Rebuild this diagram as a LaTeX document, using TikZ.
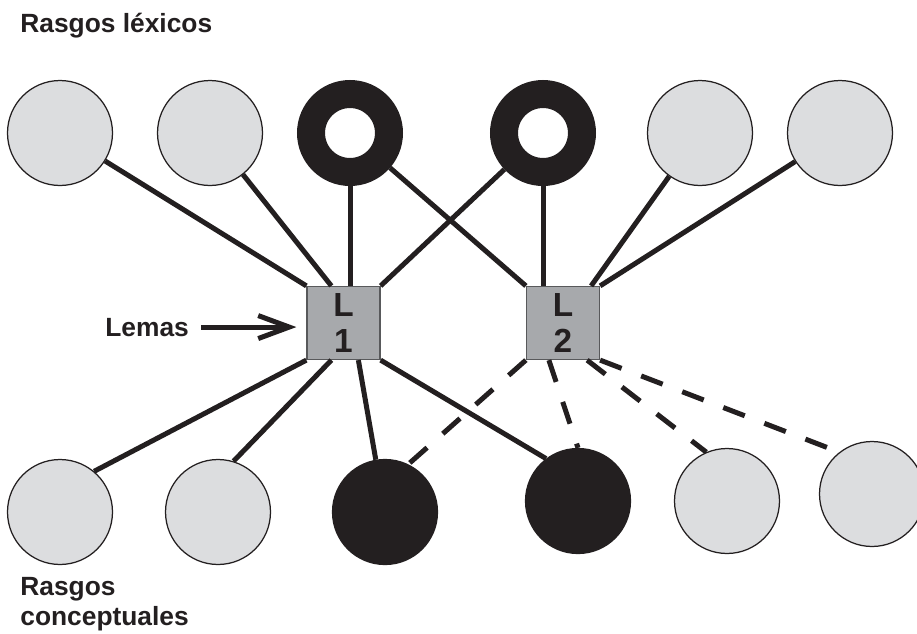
\documentclass[tikz,border=0pt]{standalone}
\usepackage{fontspec}
\setmainfont{Liberation Sans}
\usetikzlibrary{arrows.meta,positioning,calc}
\definecolor{grisclaro}{HTML}{DCDDDF}
\definecolor{tinta}{HTML}{231F20}
\definecolor{grislema}{HTML}{A7A9AC}
\definecolor{borde}{HTML}{58595B}

\begin{document}
\begin{tikzpicture}[x=0.02cm, y=-0.02cm, >={Straight Barb[length=0.62cm,width=0.46cm]}]
	\tikzstyle{rasgo}=[circle,fill=grisclaro,draw=tinta,line width=0.025cm,minimum size=2.1cm,inner sep=0pt]
	\tikzstyle{anillo}=[circle,fill=white,draw=tinta,line width=0.56cm,minimum size=1.56cm,inner sep=0pt]
	\tikzstyle{activo}=[rasgo,fill=tinta]
	\tikzstyle{lema}=[rectangle,fill=grislema,draw=borde,line width=0.025cm,minimum size=1.46cm,inner sep=0pt,align=center,text=tinta,font=\bfseries\fontsize{19}{20.4}\selectfont]
	\tikzstyle{rotulo}=[inner sep=0pt,text=tinta,font=\bfseries\fontsize{15}{17}\selectfont]
	\tikzstyle{enlace}=[line width=0.1cm,draw=tinta]
	\tikzstyle{debil}=[enlace,dash pattern=on 0.46cm off 0.42cm]
	\useasboundingbox (0,0) rectangle (917,633);

	% rasgos lexicos
	\node[rotulo,anchor=base west] (lexicos) at (20,32) {Rasgos léxicos};
	\node[rasgo]  (c1) at (60,133)  {};
	\node[rasgo]  (c2) at (210,133) {};
	\node[anillo] (r1) at (350,133) {};
	\node[anillo] (r2) at (543,133) {};
	\node[rasgo]  (c5) at (700,133) {};
	\node[rasgo]  (c6) at (840,133) {};

	% lemas
	\node[lema] (L1) at (343.5,323) {L\\1};
	\node[lema] (L2) at (563,323)   {L\\2};
	\node[rotulo,anchor=base west] (lemas) at (105,336) {Lemas};

	% rasgos conceptuales
	\node[rasgo]  (b1) at (60,512)  {};
	\node[rasgo]  (b2) at (218,512) {};
	\node[activo] (b3) at (385,512) {};
	\node[activo] (b4) at (578,501) {};
	\node[rasgo]  (b5) at (727,501) {};
	\node[rasgo]  (b6) at (872,494) {};
	\node[rotulo,anchor=base west,align=left] (conceptuales) at (20,625) {Rasgos\\conceptuales};

	\path[enlace]
	(c1) edge (L1.north west)
	(c2) edge ([xshift=0.5cm]L1.north west)
	(r1) edge (r1 |- L1.north)
	(r2) edge (L1.north east)
	(r1) edge (L2.north west)
	(r2) edge (r2 |- L2.north)
	(c5) edge ([xshift=-0.18cm]L2.north east)
	(c6) edge (L2.north east)
	(L1.south west) edge (b1.50)
	([xshift=0.5cm]L1.south west) edge (b2.73)
	([xshift=1.04cm]L1.south west) edge (b3.100)
	(L1.south east) edge (b4.127)
	;
	\path[debil]
	(L2.south west) edge (b3.64)
	([xshift=0.46cm]L2.south west) edge (b4.north)
	([xshift=-0.26cm]L2.south east) edge (b5.113)
	(L2.south east) edge (b6.128)
	;
	\draw[enlace,->,shorten <=0.24cm,shorten >=0.2cm] (lemas.east) -- (lemas.east -| L1.west);
\end{tikzpicture}
\end{document}
